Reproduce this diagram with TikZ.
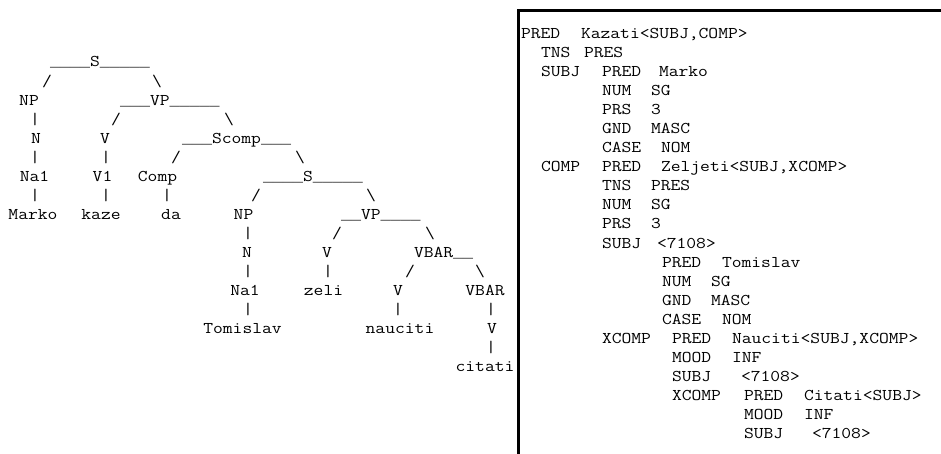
\documentclass[tikz,border=0pt]{standalone}
\usepackage{fontspec}
\usepackage{graphicx}
\newfontfamily\lmono{Liberation Mono}
\newcommand{\ct}[1]{\scalebox{1.161}[1]{#1}}
\newcommand{\us}[1]{{\lmono\fontsize{14.36pt}{14.36pt}\selectfont #1}}
\newcommand{\bs}{\textbackslash}
\newcommand{\tr}[4]{\node[tok] (#1) at (#2,{67+19.05*#3}) {\ct{#4}};}
\newcommand{\trl}[4]{\node[ltok] (#1) at (#2,{67+19.05*#3}) {\ct{#4}};}
\newcommand{\fs}[4]{\node[ltok] (#1) at (#2,{38.5+19.05*#3}) {\ct{#4}};}
\begin{document}
\begin{tikzpicture}[x=1pt,y=-1pt,
  tok/.style={inner sep=0pt,outer sep=0pt,anchor=base,font=\fontsize{16.4pt}{16.4pt}\selectfont\ttfamily},
  ltok/.style={tok,anchor=base west},
  frameline/.style={line width=2.5pt,line join=miter}]
\useasboundingbox (0,0) rectangle (941,454);
% ---------------- tree ----------------
\trl{r0s}{50}{0}{\us{\_\_\_\_}S\us{\_\_\_\_\_}}
\tr{r1a}{47}{1}{/}
\tr{r1b}{157}{1}{\bs}
\tr{r2np}{29}{2}{NP}
\trl{r2vp}{120}{2}{\us{\_\_\_}VP\us{\_\_\_\_\_}}
\tr{r3a}{35}{3}{|}
\tr{r3b}{116}{3}{/}
\tr{r3c}{229}{3}{\bs}
\tr{r4n}{36}{4}{N}
\tr{r4v}{105}{4}{V}
\trl{r4sc}{182}{4}{\us{\_\_\_}Scomp\us{\_\_\_}}
\tr{r5a}{35}{5}{|}
\tr{r5b}{106}{5}{|}
\tr{r5c}{176}{5}{/}
\tr{r5d}{300}{5}{\bs}
\tr{r6na}{34.5}{6}{Na1}
\tr{r6v}{102.5}{6}{V1}
\tr{r6c}{157.5}{6}{Comp}
\trl{r6s}{263}{6}{\us{\_\_\_\_}S\us{\_\_\_\_\_}}
\tr{r7a}{35}{7}{|}
\tr{r7b}{106}{7}{|}
\tr{r7c}{167}{7}{|}
\tr{r7d}{256}{7}{/}
\tr{r7e}{371}{7}{\bs}
\tr{r8m}{33}{8}{Marko}
\tr{r8k}{101}{8}{kaze}
\tr{r8d}{171}{8}{da}
\tr{r8np}{243.5}{8}{NP}
\trl{r8vp}{341}{8}{\us{\_\_}VP\us{\_\_\_\_}}
\tr{r9a}{248}{9}{|}
\tr{r9b}{337}{9}{/}
\tr{r9c}{430}{9}{\bs}
\tr{r10n}{247}{10}{N}
\tr{r10v}{327}{10}{V}
\trl{r10vb}{414}{10}{VBAR\us{\_\_}}
\tr{r11a}{248}{11}{|}
\tr{r11b}{328}{11}{|}
\tr{r11c}{410}{11}{/}
\tr{r11d}{480}{11}{\bs}
\tr{r12na}{245}{12}{Na1}
\tr{r12z}{323.5}{12}{zeli}
\tr{r12v}{398}{12}{V}
\tr{r12vb}{485}{12}{VBAR}
\tr{r13a}{248}{13}{|}
\tr{r13b}{398}{13}{|}
\tr{r13c}{491}{13}{|}
\tr{r14t}{242.5}{14}{Tomislav}
\tr{r14n}{400}{14}{nauciti}
\tr{r14v}{492}{14}{V}
\tr{r15a}{491}{15}{|}
\tr{r16c}{485}{16}{citati}
% ---------------- frame ----------------
\draw[frameline] (518.5,454) -- (518.5,10.5) -- (941,10.5);
% ---------------- f-structure ----------------
\fs{f0a}{521}{0}{PRED}
\fs{f0b}{581}{0}{Kazati<SUBJ,COMP>}
\fs{f1a}{541}{1}{TNS}
\fs{f1b}{584}{1}{PRES}
\fs{f2a}{541}{2}{SUBJ}
\fs{f2b}{602}{2}{PRED}
\fs{f2c}{659}{2}{Marko}
\fs{f3a}{602}{3}{NUM}
\fs{f3b}{651}{3}{SG}
\fs{f4a}{602}{4}{PRS}
\fs{f4b}{651}{4}{3}
\fs{f5a}{602}{5}{GND}
\fs{f5b}{651}{5}{MASC}
\fs{f6a}{602}{6}{CASE}
\fs{f6b}{661}{6}{NOM}
\fs{f7a}{541}{7}{COMP}
\fs{f7b}{602}{7}{PRED}
\fs{f7c}{661}{7}{Zeljeti<SUBJ,XCOMP>}
\fs{f8a}{602}{8}{TNS}
\fs{f8b}{651}{8}{PRES}
\fs{f9a}{602}{9}{NUM}
\fs{f9b}{651}{9}{SG}
\fs{f10a}{602}{10}{PRS}
\fs{f10b}{651}{10}{3}
\fs{f11a}{602}{11}{SUBJ}
\fs{f11b}{657}{11}{<7108>}
\fs{f12a}{662}{12}{PRED}
\fs{f12b}{722}{12}{Tomislav}
\fs{f13a}{662}{13}{NUM}
\fs{f13b}{711}{13}{SG}
\fs{f14a}{662}{14}{GND}
\fs{f14b}{711}{14}{MASC}
\fs{f15a}{662}{15}{CASE}
\fs{f15b}{722}{15}{NOM}
\fs{f16a}{602}{16}{XCOMP}
\fs{f16b}{672}{16}{PRED}
\fs{f16c}{732}{16}{Nauciti<SUBJ,XCOMP>}
\fs{f17a}{672}{17}{MOOD}
\fs{f17b}{732}{17}{INF}
\fs{f18a}{672}{18}{SUBJ}
\fs{f18b}{741}{18}{<7108>}
\fs{f19a}{672}{19}{XCOMP}
\fs{f19b}{744}{19}{PRED}
\fs{f19c}{804}{19}{Citati<SUBJ>}
\fs{f20a}{744}{20}{MOOD}
\fs{f20b}{804}{20}{INF}
\fs{f21a}{744}{21}{SUBJ}
\fs{f21b}{812}{21}{<7108>}
\end{tikzpicture}
\end{document}
